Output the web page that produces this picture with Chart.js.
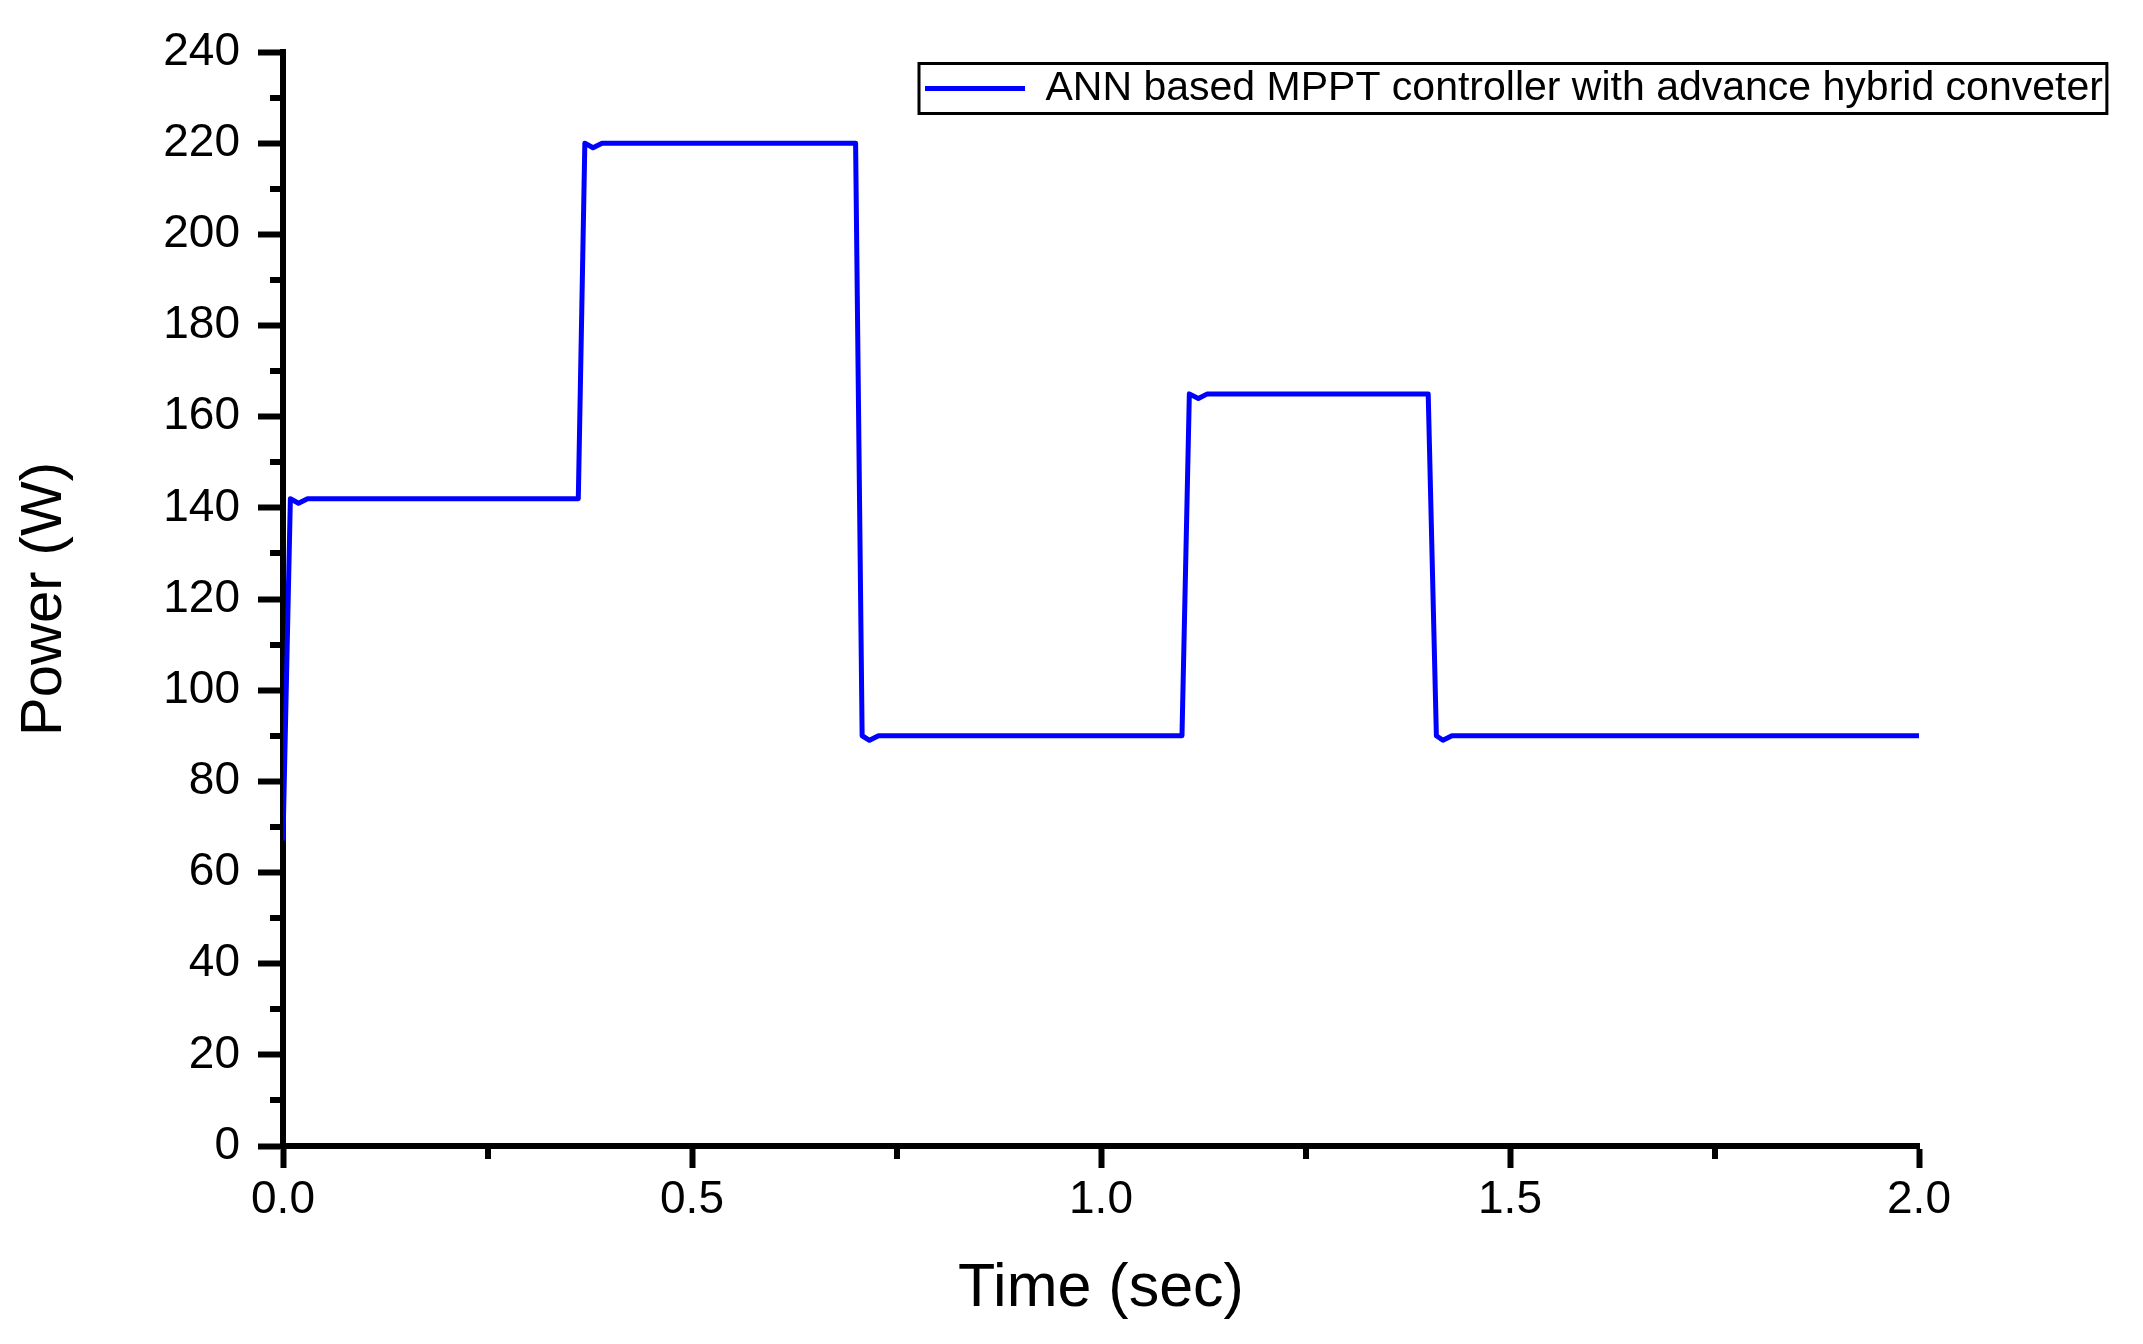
<!DOCTYPE html>
<html lang="en">
  <head>
    <meta charset="UTF-8" />
    <title>ANN MPPT Power</title>
    <style>
      body {
        margin: 0;
        padding: 0;
        background: #ffffff;
      }
      canvas {
        display: block;
        background: #ffffff;
      }
    </style>
  </head>
  <body>
    <canvas id="powerChart" width="2143" height="1344"></canvas>

    <script src="https://cdn.jsdelivr.net/npm/chart.js"></script>
    <script>
      // values
      const timeSec = [
        0, 0.009, 0.019, 0.03, 0.361, 0.369, 0.379, 0.39, 0.7, 0.708, 0.717,
        0.728, 1.099, 1.108, 1.119, 1.13, 1.4, 1.41, 1.418, 1.429, 2.0,
      ];
      const powerW = [
        67, 142, 141, 142, 142, 220, 219, 220, 220, 90, 89, 90, 90, 165, 164,
        165, 165, 90, 89, 90, 90,
      ];
      const seriesLabel = "ANN based MPPT controller with advance hybrid conveter";
      const xMinorTicks = [0.25, 0.75, 1.25, 1.75];
      const yMinorTicks = [10, 30, 50, 70, 90, 110, 130, 150, 170, 190, 210, 230];

      const font = "'Liberation Sans', Arial, sans-serif";
      const canvas = document.getElementById("powerChart");

      // minor ticks + legend frame, drawn with the chart's own scales
      const extras = {
        id: "extras",
        afterLayout(chart) {
          // park the legend in the top right corner, as in the figure
          const lg = chart.legend;
          if (!lg) return;
          const w = lg.width;
          const h = lg.height;
          lg.left = 915;
          lg.right = lg.left + w;
          lg.top = 58;
          lg.bottom = lg.top + h;
        },
        afterDraw(chart) {
          const ctx = chart.ctx;
          const x = chart.scales.x;
          const y = chart.scales.y;
          const area = chart.chartArea;
          ctx.save();
          ctx.strokeStyle = "#000";
          ctx.lineWidth = 6;
          ctx.beginPath();
          yMinorTicks.forEach((v) => {
            const py = Math.round(y.getPixelForValue(v));
            ctx.moveTo(area.left - 13, py);
            ctx.lineTo(area.left, py);
          });
          xMinorTicks.forEach((v) => {
            const px = Math.round(x.getPixelForValue(v));
            ctx.moveTo(px, area.bottom);
            ctx.lineTo(px, area.bottom + 13);
          });
          ctx.stroke();

          const hb = chart.legend && chart.legend.legendHitBoxes[0];
          if (hb) {
            const cy = hb.top + hb.height / 2;
            ctx.lineWidth = 3;
            ctx.strokeRect(hb.left - 6, cy - 25, hb.width + 10, 50);
          }
          ctx.restore();
        },
      };

      new Chart(canvas, {
        type: "line",
        data: {
          datasets: [
            {
              label: seriesLabel,
              data: timeSec.map((t, i) => ({ x: t, y: powerW[i] })),
              borderColor: "#0000ff",
              backgroundColor: "#0000ff",
              borderWidth: 5,
              pointRadius: 0,
              tension: 0,
              fill: false,
              borderJoinStyle: "round",
            },
          ],
        },
        options: {
          responsive: false,
          animation: false,
          devicePixelRatio: 1,
          layout: {
            padding: { left: 0, right: 224, top: 52, bottom: 0 },
          },
          plugins: {
            tooltip: { enabled: false },
            legend: {
              position: "chartArea",
              align: "start",
              labels: {
                color: "#000",
                font: { family: font, size: 41 },
                usePointStyle: true,
                pointStyle: "line",
                pointStyleWidth: 100,
                padding: 10,
              },
            },
          },
          scales: {
            x: {
              type: "linear",
              min: 0,
              max: 2,
              afterFit(scale) {
                scale.height = 198;
              },
              border: { display: true, color: "#000", width: 6 },
              grid: {
                drawOnChartArea: false,
                drawTicks: true,
                tickLength: 22,
                tickWidth: 6,
                tickColor: "#000",
              },
              ticks: {
                stepSize: 0.5,
                color: "#000",
                padding: 5,
                maxRotation: 0,
                font: { family: font, size: 46 },
                callback: (v) => Number(v).toFixed(1),
              },
              title: {
                display: true,
                text: "Time (sec)",
                color: "#000",
                font: { family: font, size: 61 },
                padding: { top: 0, bottom: 18 },
              },
            },
            y: {
              min: 0,
              max: 240,
              afterFit(scale) {
                scale.width = 283;
              },
              border: { display: true, color: "#000", width: 6 },
              grid: {
                drawOnChartArea: false,
                drawTicks: true,
                tickLength: 25,
                tickWidth: 6,
                tickColor: "#000",
              },
              ticks: {
                stepSize: 20,
                color: "#000",
                padding: 18,
                font: { family: font, size: 46 },
              },
              title: {
                display: true,
                text: "Power (W)",
                color: "#000",
                font: { family: font, size: 58 },
                padding: { top: 10, bottom: 0 },
              },
            },
          },
        },
        plugins: [extras],
      });
    </script>
  </body>
</html>
